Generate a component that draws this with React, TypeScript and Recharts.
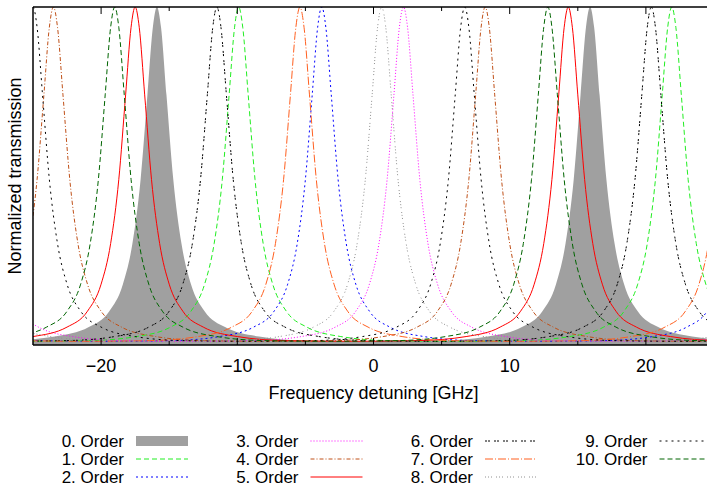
import React from "react";
import { ComposedChart, Line, Area, XAxis, YAxis } from "recharts";

// transmission curves: [detuning GHz, normalized transmission]
const order0 = [[-26.9,.013],[-23.4,.025],[-20.9,.053],[-19.4,.10],[-18.4,.18],[-17.7,.30],[-17.1,.49],[-16.6,.74],[-16.2,.94],[-15.9,1],[-15.6,.94],[-15.2,.74],[-14.7,.49],[-14.1,.30],[-13.4,.18],[-12.4,.10],[-10.9,.053],[-8.4,.025],[-4.9,.013],[0,.011],[4.9,.013],[8.4,.025],[10.9,.053],[12.4,.10],[13.4,.18],[14.1,.30],[14.7,.49],[15.2,.74],[15.6,.94],[15.9,1],[16.2,.94],[16.6,.74],[17.1,.49],[17.7,.30],[18.4,.18],[19.4,.10],[20.9,.053],[23.4,.025],[26.9,.013]];
const order1 = [[-25.8,.011],[-20.9,.013],[-17.4,.025],[-14.9,.053],[-13.4,.10],[-12.4,.18],[-11.7,.30],[-11.1,.49],[-10.6,.74],[-10.2,.94],[-9.9,1],[-9.6,.94],[-9.2,.74],[-8.7,.49],[-8.1,.30],[-7.4,.18],[-6.4,.10],[-4.9,.053],[-2.4,.025],[1.1,.013],[6,.011],[10.9,.013],[14.4,.025],[16.9,.053],[18.4,.10],[19.4,.18],[20.1,.30],[20.7,.49],[21.2,.74],[21.6,.94],[21.9,1],[22.2,.94],[22.6,.74],[23.1,.49],[23.7,.30],[24.4,.18],[25.4,.10],[26.9,.053],[29.4,.025]];
const order2 = [[-28.1,.025],[-24.6,.013],[-19.7,.011],[-14.8,.013],[-11.3,.025],[-8.8,.053],[-7.3,.10],[-6.3,.18],[-5.6,.30],[-5,.49],[-4.5,.74],[-4.1,.94],[-3.8,1],[-3.5,.94],[-3.1,.74],[-2.6,.49],[-2,.30],[-1.3,.18],[-0.3,.10],[1.2,.053],[3.7,.025],[7.2,.013],[12.1,.011],[17,.013],[20.5,.025],[23,.053],[24.5,.10],[25.5,.18],[26.2,.30],[26.8,.49],[27.3,.74]];
const order3 = [[-29.3,.94],[-28.9,.74],[-28.4,.49],[-27.8,.30],[-27.1,.18],[-26.1,.10],[-24.6,.053],[-22.1,.025],[-18.6,.013],[-13.7,.011],[-8.8,.013],[-5.3,.025],[-2.8,.053],[-1.3,.10],[-0.3,.18],[0.4,.30],[1,.49],[1.5,.74],[1.9,.94],[2.2,1],[2.5,.94],[2.9,.74],[3.4,.49],[4,.30],[4.7,.18],[5.7,.10],[7.2,.053],[9.7,.025],[13.2,.013],[18.1,.011],[23,.013],[26.5,.025]];
const order4 = [[-31,.025],[-28.5,.053],[-27,.10],[-26,.18],[-25.3,.30],[-24.7,.49],[-24.2,.74],[-23.8,.94],[-23.5,1],[-23.2,.94],[-22.8,.74],[-22.3,.49],[-21.7,.30],[-21,.18],[-20,.10],[-18.5,.053],[-16,.025],[-12.5,.013],[-7.65,.011],[-2.8,.013],[0.7,.025],[3.2,.053],[4.7,.10],[5.7,.18],[6.4,.30],[7,.49],[7.5,.74],[7.9,.94],[8.2,1],[8.5,.94],[8.9,.74],[9.4,.49],[10,.30],[10.7,.18],[11.7,.10],[13.2,.053],[15.7,.025],[19.2,.013],[24.1,.011],[29,.013]];
const order5 = [[-28.5,.013],[-25,.025],[-22.5,.053],[-21,.10],[-20,.18],[-19.3,.30],[-18.7,.49],[-18.2,.74],[-17.8,.94],[-17.5,1],[-17.2,.94],[-16.8,.74],[-16.3,.49],[-15.7,.30],[-15,.18],[-14,.10],[-12.5,.053],[-10,.025],[-6.5,.013],[-1.6,.011],[3.3,.013],[6.8,.025],[9.3,.053],[10.8,.10],[11.8,.18],[12.5,.30],[13.1,.49],[13.6,.74],[14,.94],[14.3,1],[14.6,.94],[15,.74],[15.5,.49],[16.1,.30],[16.8,.18],[17.8,.10],[19.3,.053],[21.8,.025],[25.3,.013],[30.2,.011]];
const order6 = [[-27.35,.011],[-22.5,.013],[-19,.025],[-16.5,.053],[-15,.10],[-14,.18],[-13.3,.30],[-12.7,.49],[-12.2,.74],[-11.8,.94],[-11.5,1],[-11.2,.94],[-10.8,.74],[-10.3,.49],[-9.7,.30],[-9,.18],[-8,.10],[-6.5,.053],[-4,.025],[-0.5,.013],[4.45,.011],[9.4,.013],[12.9,.025],[15.4,.053],[16.9,.10],[17.9,.18],[18.6,.30],[19.2,.49],[19.7,.74],[20.1,.94],[20.4,1],[20.7,.94],[21.1,.74],[21.6,.49],[22.2,.30],[22.9,.18],[23.9,.10],[25.4,.053],[27.9,.025]];
const order7 = [[-26.2,.013],[-21.3,.011],[-16.4,.013],[-12.9,.025],[-10.4,.053],[-8.9,.10],[-7.9,.18],[-7.2,.30],[-6.6,.49],[-6.1,.74],[-5.7,.94],[-5.4,1],[-5.1,.94],[-4.7,.74],[-4.2,.49],[-3.6,.30],[-2.9,.18],[-1.9,.10],[-0.4,.053],[2.1,.025],[5.6,.013],[10.5,.011],[15.4,.013],[18.9,.025],[21.4,.053],[22.9,.10],[23.9,.18],[24.6,.30],[25.2,.49],[25.7,.74]];
const order8 = [[-27.7,.10],[-26.2,.053],[-23.7,.025],[-20.2,.013],[-15.3,.011],[-10.4,.013],[-6.9,.025],[-4.4,.053],[-2.9,.10],[-1.9,.18],[-1.2,.30],[-0.6,.49],[-0.1,.74],[0.3,.94],[0.6,1],[0.9,.94],[1.3,.74],[1.8,.49],[2.4,.30],[3.1,.18],[4.1,.10],[5.6,.053],[8.1,.025],[11.6,.013],[16.5,.011],[21.4,.013],[24.9,.025],[27.4,.053]];
const order9 = [[-32.5,.025],[-30,.053],[-28.5,.10],[-27.5,.18],[-26.8,.30],[-26.2,.49],[-25.7,.74],[-25.3,.94],[-25,1],[-24.7,.94],[-24.3,.74],[-23.8,.49],[-23.2,.30],[-22.5,.18],[-21.5,.10],[-20,.053],[-17.5,.025],[-14,.013],[-9.15,.011],[-4.3,.013],[-0.8,.025],[1.7,.053],[3.2,.10],[4.2,.18],[4.9,.30],[5.5,.49],[6,.74],[6.4,.94],[6.7,1],[7,.94],[7.4,.74],[7.9,.49],[8.5,.30],[9.2,.18],[10.2,.10],[11.7,.053],[14.2,.025],[17.7,.013],[22.6,.011],[27.5,.013]];
const order10 = [[-30,.013],[-26.5,.025],[-24,.053],[-22.5,.10],[-21.5,.18],[-20.8,.30],[-20.2,.49],[-19.7,.74],[-19.3,.94],[-19,1],[-18.7,.94],[-18.3,.74],[-17.8,.49],[-17.2,.30],[-16.5,.18],[-15.5,.10],[-14,.053],[-11.5,.025],[-8,.013],[-3.1,.011],[1.8,.013],[5.3,.025],[7.8,.053],[9.3,.10],[10.3,.18],[11,.30],[11.6,.49],[12.1,.74],[12.5,.94],[12.8,1],[13.1,.94],[13.5,.74],[14,.49],[14.6,.30],[15.3,.18],[16.3,.10],[17.8,.053],[20.3,.025],[23.8,.013],[28.7,.011]];

const majorTicks = [-20, -10, 0, 10, 20];
const allTicks = [-20, -15, -10, -5, 0, 5, 10, 15, 20];

const toRows = (pts: number[][]) => pts.map(([f, t]) => ({ f, t }));

const lines = [
  { name: "1. Order", data: order1, color: "#22ee22", dash: "5 3" },
  { name: "2. Order", data: order2, color: "#0000ff", dash: "2 3" },
  { name: "3. Order", data: order3, color: "#ff00ff", dash: "1 2" },
  { name: "4. Order", data: order4, color: "#c05018", dash: "4 2 1 2" },
  { name: "5. Order", data: order5, color: "#ff0000", dash: undefined },
  { name: "6. Order", data: order6, color: "#000000", dash: "2 1 2 4" },
  { name: "7. Order", data: order7, color: "#ff6020", dash: "8 2 1 2" },
  { name: "8. Order", data: order8, color: "#909090", dash: "1 2 1 2 1 4" },
  { name: "9. Order", data: order9, color: "#000000", dash: "2 4" },
  { name: "10. Order", data: order10, color: "#006400", dash: "5 3" },
];

const FONT = "'Liberation Sans', Arial, sans-serif";
const fmt = (v: number) => (v < 0 ? "\u2212" + Math.abs(v) : String(v));

function BottomTick({ x, y, payload }: any) {
  const major = majorTicks.includes(payload.value);
  return (
    <g>
      <line x1={x} x2={x} y1={y} y2={y - (major ? 7 : 4)} stroke="#000" />
      {major && (
        <text x={x} y={y + 27} textAnchor="middle" fontSize={18} fill="#000" fontFamily={FONT}>
          {fmt(payload.value)}
        </text>
      )}
    </g>
  );
}

function TopTick({ x, y, payload }: any) {
  const major = majorTicks.includes(payload.value);
  return <line x1={x} x2={x} y1={y} y2={y + (major ? 7 : 4)} stroke="#000" />;
}

function LegendBox() {
  const items = [{ name: "0. Order", color: "#a0a0a0", dash: undefined, fill: true }, ...lines.map((l) => ({ ...l, fill: false }))];
  return (
    <svg width={716} height={70} style={{ position: "absolute", left: 0, top: 425 }}>
      {items.map((it, i) => {
        const col = Math.floor(i / 3);
        const row = i % 3;
        const right = 124 + col * 174.5;
        const cy = 16 + row * 18;
        return (
          <g key={it.name}>
            <text x={right} y={cy + 6} textAnchor="end" fontSize={17} fontFamily={FONT} fill="#000">
              {it.name}
            </text>
            {it.fill ? (
              <rect x={right + 12} y={cy - 5} width={52} height={10} fill={it.color} />
            ) : (
              <line x1={right + 12} x2={right + 64} y1={cy} y2={cy} stroke={it.color} strokeDasharray={it.dash} />
            )}
          </g>
        );
      })}
    </svg>
  );
}

export default function App() {
  return (
    <div style={{ position: "relative", width: 716, height: 491, fontFamily: FONT }}>
      <style>{"body{margin:0;overflow:hidden}"}</style>
      <ComposedChart width={716} height={491} margin={{ top: 6, right: 2, bottom: 116, left: 32 }}>
        <XAxis
          xAxisId="b"
          dataKey="f"
          type="number"
          domain={[-25, 25]}
          allowDataOverflow
          ticks={allTicks}
          height={30}
          tickSize={0}
          tickMargin={0}
          tickLine={false}
          tick={<BottomTick />}
          axisLine={{ stroke: "#000", strokeWidth: 1.5 }}
          label={{
            content: () => (
              <text x={373.5} y={399} textAnchor="middle" fontSize={18} fontFamily={FONT} fill="#000">
                Frequency detuning [GHz]
              </text>
            ),
          }}
        />
        <XAxis
          xAxisId="t"
          orientation="top"
          dataKey="f"
          type="number"
          domain={[-25, 25]}
          allowDataOverflow
          ticks={allTicks}
          height={1}
          tickSize={0}
          tickMargin={0}
          tickLine={false}
          tick={<TopTick />}
          axisLine={{ stroke: "#000", strokeWidth: 1.5 }}
        />
        <YAxis
          type="number"
          domain={[0, 1]}
          allowDataOverflow
          width={1}
          tick={false}
          tickLine={false}
          axisLine={{ stroke: "#000", strokeWidth: 1.5 }}
          label={{
            content: () => (
              <text x={15} y={176} transform="rotate(-90, 15, 176)" dy={6} textAnchor="middle" fontSize={18} fontFamily={FONT} fill="#000">
                Normalized transmission
              </text>
            ),
          }}
        />
        <Area
          xAxisId="b"
          data={toRows(order0)}
          dataKey="t"
          name="0. Order"
          type="monotone"
          stroke="none"
          fill="#a0a0a0"
          fillOpacity={1}
          isAnimationActive={false}
          dot={false}
          activeDot={false}
        />
        {lines.map((l) => (
          <Line
            key={l.name}
            xAxisId="b"
            data={toRows(l.data)}
            dataKey="t"
            name={l.name}
            type="monotone"
            stroke={l.color}
            strokeWidth={1}
            strokeDasharray={l.dash}
            dot={false}
            activeDot={false}
            isAnimationActive={false}
          />
        ))}
      </ComposedChart>
      <LegendBox />
    </div>
  );
}
